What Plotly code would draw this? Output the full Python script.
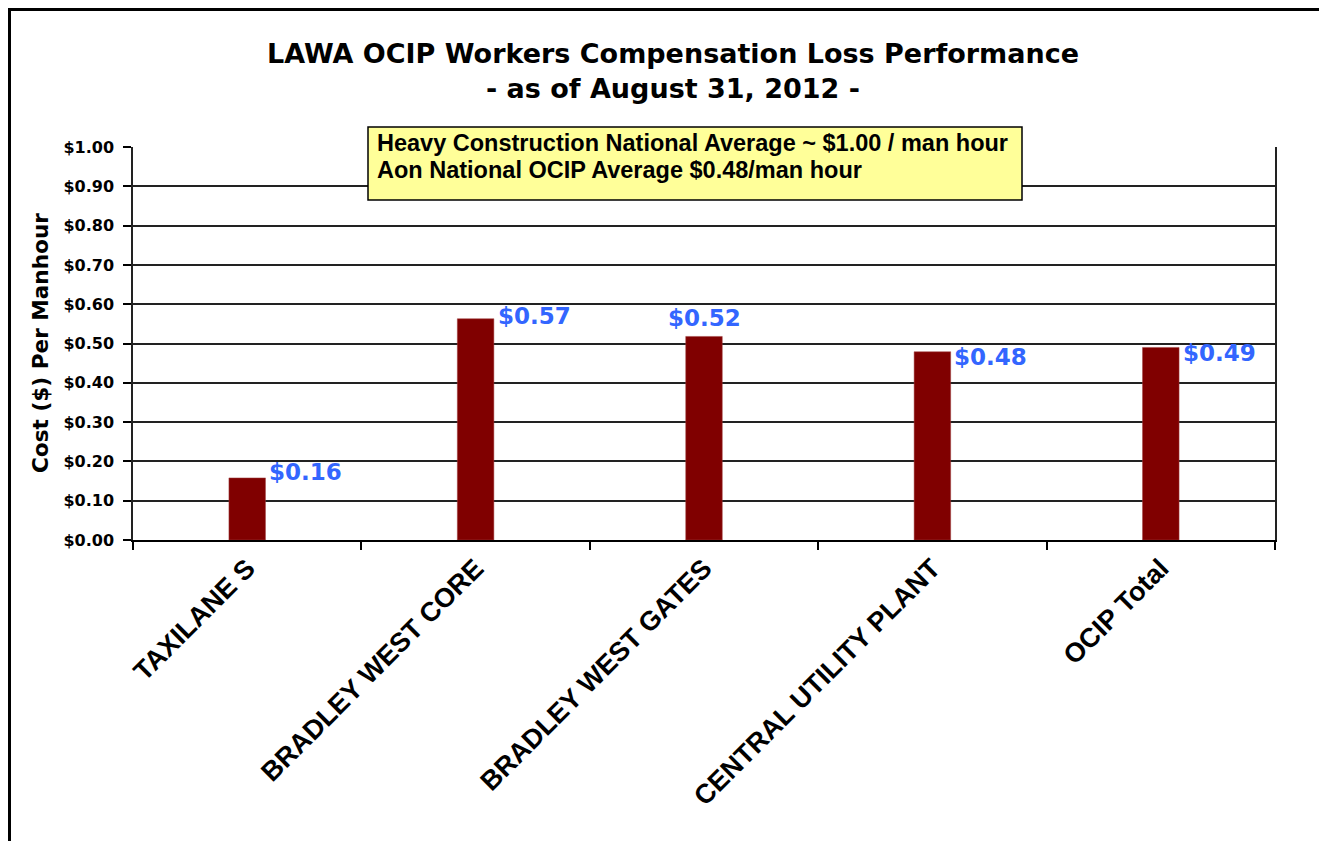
import plotly.graph_objects as go

categories = ["TAXILANE S", "BRADLEY WEST CORE", "BRADLEY WEST GATES",
              "CENTRAL UTILITY PLANT", "OCIP Total"]
values = [0.158, 0.563, 0.518, 0.479, 0.490]
value_labels = ["$0.16", "$0.57", "$0.52", "$0.48", "$0.49"]
y_ticks = [0.0, 0.1, 0.2, 0.3, 0.4, 0.5, 0.6, 0.7, 0.8, 0.9, 1.0]
y_tick_labels = ["$%.2f" % v for v in y_ticks]
title_lines = ["LAWA OCIP Workers Compensation Loss Performance",
               "- as of August 31, 2012 -"]
note_lines = ["Heavy Construction National Average ~ $1.00 / man hour",
              "Aon National OCIP Average $0.48/man hour"]
y_title = "Cost ($) Per Manhour"

W, H = 1327, 841
OFF = 8  # page body margin
L, R, T, B = 133, 1275, 147, 540  # target plot area in screen px

def px(x):
    return (x - L) / (R - L)

def py(y):
    return (B - y) / (B - T)

BOLD = "DejaVu Sans"
ARIAL = "Liberation Sans, Arial"

fig = go.Figure()
fig.add_trace(go.Bar(
    x=categories, y=values, width=0.16,
    marker=dict(color="#800000", line=dict(color="#a04040", width=0.5)),
    hoverinfo="skip",
))

# data labels: (xanchor, yanchor, xshift, yshift)
label_pos = [("left", "middle", 20, 6), ("left", "middle", 20, 3),
             ("center", "bottom", 0, 3), ("left", "middle", 20, -5),
             ("left", "middle", 20, -6)]
annotations = []
for cat, v, lab, (xa, ya, xs, ys) in zip(categories, values, value_labels, label_pos):
    annotations.append(dict(
        x=cat, y=v, xref="x", yref="y", text="<b>%s</b>" % lab, showarrow=False,
        xanchor=xa, yanchor=ya, xshift=xs, yshift=ys,
        font=dict(family=BOLD, size=23, color="#3366FF"),
    ))

# note box text lines
for line, ycen in zip(note_lines, [143, 170]):
    annotations.append(dict(
        x=px(375), y=py(ycen), xref="paper", yref="paper",
        text="<b>%s</b>" % line,
        showarrow=False, xanchor="left", yanchor="middle", align="left",
        font=dict(family=ARIAL, size=23.5, color="black"),
    ))

# y-axis title
annotations.append(dict(
    x=px(40), y=py(343), xref="paper", yref="paper",
    text="<b>%s</b>" % y_title, textangle=-90, showarrow=False,
    xanchor="center", yanchor="middle",
    font=dict(family=BOLD, size=21.6, color="black"),
))

shapes = [
    dict(type="rect", xref="paper", yref="paper",
         x0=px(368), x1=px(1022), y0=py(200), y1=py(127),
         fillcolor="#FFFF99", line=dict(color="black", width=1.5), layer="above"),
    dict(type="rect", xref="paper", yref="paper",
         x0=px(OFF + 1.5), x1=px(1345), y0=py(870), y1=py(OFF + 1.5),
         line=dict(color="black", width=3), layer="above"),
]

fig.update_layout(
    width=W, height=H,
    margin=dict(l=L - OFF, r=W + OFF - R, t=T - OFF, b=H + OFF - B, pad=0),
    paper_bgcolor="white", plot_bgcolor="white",
    showlegend=False,
    title=dict(
        text="<br>".join("<b>%s</b>" % t for t in title_lines),
        x=(673 - OFF) / W, y=1 - (63 - OFF) / H,
        xref="container", yref="container", xanchor="center", yanchor="middle",
        font=dict(family=BOLD, size=27, color="black"),
    ),
    annotations=annotations,
    shapes=shapes,
)

fig.update_xaxes(
    type="category", tickson="boundaries", ticks="outside", ticklen=8,
    tickcolor="black", tickwidth=1.5, showline=True, linecolor="black", linewidth=1.5,
    tickangle=-45, showgrid=False,
    tickfont=dict(family=ARIAL, size=27, color="black"),
    tickvals=categories, ticktext=["<b>%s</b>" % c for c in categories],
)
fig.update_yaxes(
    range=[0, 1.0], tickvals=y_ticks, ticktext=["<b>%s</b>" % t for t in y_tick_labels],
    ticks="outside", ticklen=8, tickcolor="black", tickwidth=1.5,
    showline=True, linecolor="#222", linewidth=1.5, mirror=True,
    showgrid=True, gridcolor="#222", gridwidth=1.5, zeroline=False,
    tickfont=dict(family=BOLD, size=16, color="black"),
    ticklabelstandoff=6,
)

fig.write_html("out.html")
